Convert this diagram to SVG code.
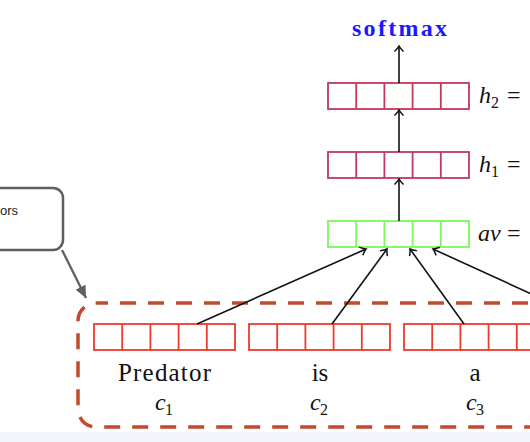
<svg xmlns="http://www.w3.org/2000/svg" width="530" height="442" viewBox="0 0 530 442">
<style>
.hbox{fill:none;stroke:#c3385c;stroke-width:1.8}
.gbox{fill:none;stroke:#7cf85a;stroke-width:1.8}
.wbox{fill:none;stroke:#ef3a2e;stroke-width:1.8}
.conn{stroke:#111;stroke-width:1.6;fill:none}
</style>
<defs>
<marker id="open" markerUnits="userSpaceOnUse" markerWidth="14" markerHeight="14" refX="0" refY="0" viewBox="-8 -7 10 14" orient="auto">
<path d="M -5.5 -4.5 Q -2 -1 0 0 Q -2 1 -5.5 4.5" fill="none" stroke="#111" stroke-width="1.5"/>
</marker>
<marker id="gray" markerUnits="userSpaceOnUse" markerWidth="16" markerHeight="16" refX="0" refY="0" viewBox="-14 -7 16 14" orient="auto">
<path d="M -12 -5.5 L 0 0 L -12 5.5 Z" fill="#5f5f5f"/>
</marker>
<g id="cells5">
<line x1="28.2" y1="0" x2="28.2" y2="26"/><line x1="56.4" y1="0" x2="56.4" y2="26"/><line x1="84.6" y1="0" x2="84.6" y2="26"/><line x1="112.8" y1="0" x2="112.8" y2="26"/>
<rect x="0" y="0" width="141" height="26"/>
</g>
</defs>
<rect x="0" y="432" width="530" height="10" fill="#f4f5fa"/>

<g id="softmax">
<text x="352" y="36" font-family="'Liberation Serif'" font-weight="bold" font-size="24" fill="#1a1aff" textLength="95" lengthAdjust="spacing">softmax</text>
</g>

<g id="h2">
<use href="#cells5" x="328" y="83" class="hbox"/>
<text x="479" y="103" font-family="'Liberation Serif'" font-style="italic" font-size="24" fill="#111">h</text>
<text x="491" y="108" font-family="'Liberation Serif'" font-size="16" fill="#111">2</text>
<text x="507" y="103" font-family="'Liberation Serif'" font-size="24" fill="#111">=</text>
</g>
<g id="h1">
<use href="#cells5" x="328" y="152" class="hbox"/>
<text x="479" y="172" font-family="'Liberation Serif'" font-style="italic" font-size="24" fill="#111">h</text>
<text x="491" y="177" font-family="'Liberation Serif'" font-size="16" fill="#111">1</text>
<text x="507" y="172" font-family="'Liberation Serif'" font-size="24" fill="#111">=</text>
</g>
<g id="av">
<use href="#cells5" x="328" y="221" class="gbox"/>
<text x="478" y="241" font-family="'Liberation Serif'" font-style="italic" font-size="24" fill="#111">av</text>
<text x="507" y="241" font-family="'Liberation Serif'" font-size="24" fill="#111">=</text>
</g>

<g id="callout">
<rect x="-40" y="188" width="103" height="62" rx="10" ry="10" fill="#fff" stroke="#5f5f5f" stroke-width="2.5"/>
<text x="0" y="215" font-family="'Liberation Sans'" font-size="13" fill="#222">ors</text>
</g>

<g id="container">
<rect x="78" y="303" width="520" height="124" rx="18" ry="18" fill="none" stroke="#c4492f" stroke-width="3.5" stroke-dasharray="16 12" stroke-dashoffset="4"/>
</g>

<g id="c1">
<use href="#cells5" x="94" y="324" class="wbox"/>
<text x="118" y="381" font-family="'Liberation Serif'" font-size="25" fill="#111" textLength="93" lengthAdjust="spacing">Predator</text>
<text x="155" y="410" font-family="'Liberation Serif'" font-style="italic" font-size="24" fill="#111">c</text>
<text x="165" y="415" font-family="'Liberation Serif'" font-size="16" fill="#111">1</text>
</g>
<g id="c2">
<use href="#cells5" x="249" y="324" class="wbox"/>
<text x="320" y="381" font-family="'Liberation Serif'" font-size="25" fill="#111" text-anchor="middle">is</text>
<text x="310" y="410" font-family="'Liberation Serif'" font-style="italic" font-size="24" fill="#111">c</text>
<text x="320" y="415" font-family="'Liberation Serif'" font-size="16" fill="#111">2</text>
</g>
<g id="c3">
<use href="#cells5" x="404" y="324" class="wbox"/>
<text x="475" y="381" font-family="'Liberation Serif'" font-size="25" fill="#111" text-anchor="middle">a</text>
<text x="466" y="410" font-family="'Liberation Serif'" font-style="italic" font-size="24" fill="#111">c</text>
<text x="476" y="415" font-family="'Liberation Serif'" font-size="16" fill="#111">3</text>
</g>

<g id="connectors">
<line class="conn" x1="399" y1="83" x2="399" y2="46" marker-end="url(#open)"/>
<line class="conn" x1="399" y1="152" x2="399" y2="110" marker-end="url(#open)"/>
<line class="conn" x1="399" y1="221" x2="399" y2="179" marker-end="url(#open)"/>
<line class="conn" x1="197" y1="324" x2="366" y2="249" marker-end="url(#open)"/>
<line class="conn" x1="332" y1="324" x2="387" y2="249" marker-end="url(#open)"/>
<line class="conn" x1="464" y1="324" x2="410" y2="249" marker-end="url(#open)"/>
<line class="conn" x1="597" y1="324" x2="433" y2="249" marker-end="url(#open)"/>
<line x1="62" y1="250" x2="86" y2="298" stroke="#5f5f5f" stroke-width="2.2" marker-end="url(#gray)"/>
</g>
</svg>
